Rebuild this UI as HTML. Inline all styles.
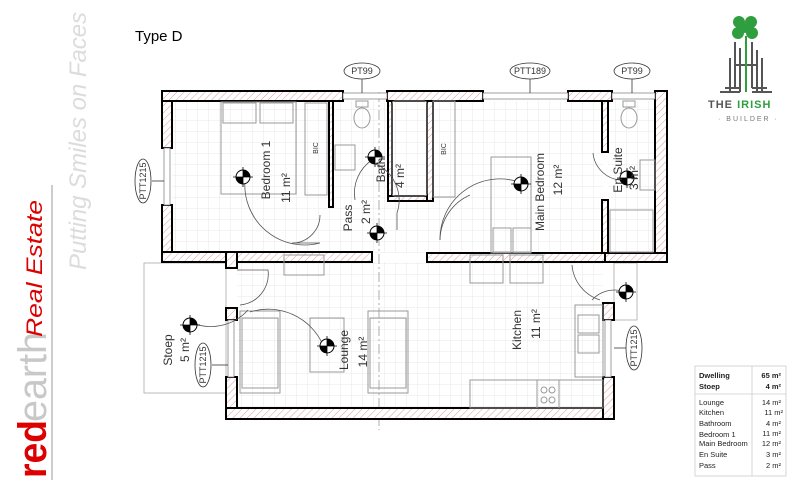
<!DOCTYPE html>
<html><head><meta charset="utf-8"><style>
html,body{margin:0;padding:0;background:#fff;}
body{width:799px;height:491px;overflow:hidden;}
svg text{font-family:"Liberation Sans",sans-serif;}
</style></head><body>
<svg width="799" height="491" viewBox="0 0 799 491" xmlns="http://www.w3.org/2000/svg">
<defs>
<pattern id="grid" width="11" height="11" patternUnits="userSpaceOnUse">
<path d="M11 0V11H0" fill="none" stroke="#e2e2e2" stroke-width="0.8"/>
</pattern>
<pattern id="hatch" width="5" height="5" patternUnits="userSpaceOnUse" patternTransform="rotate(45)">
<rect width="5" height="5" fill="#fff"/>
<line x1="0" y1="0" x2="0" y2="5" stroke="#d99" stroke-width="1"/>
</pattern>
<g id="light">
<circle r="7" fill="#fff" stroke="#000" stroke-width="1"/>
<path d="M0 0L0 -7A7 7 0 0 1 7 0Z" fill="#000"/>
<path d="M0 0L0 7A7 7 0 0 1 -7 0Z" fill="#000"/>
<line x1="-10" y1="0" x2="10" y2="0" stroke="#000" stroke-width="0.8"/>
<line x1="0" y1="-10" x2="0" y2="10" stroke="#000" stroke-width="0.8"/>
</g>
</defs>

<!-- left branding -->
<line x1="52" y1="185" x2="52" y2="480" stroke="#999" stroke-width="1"/>
<text transform="translate(46,478) rotate(-90)" font-size="40" fill="#d00" font-weight="bold" textLength="58" lengthAdjust="spacingAndGlyphs">red</text>
<text transform="translate(46,422) rotate(-90)" font-size="40" fill="#c8c8c8" textLength="90" lengthAdjust="spacingAndGlyphs">earth</text>
<text transform="translate(42,337) rotate(-90)" font-size="22" fill="#d00" font-style="italic" font-family="Liberation Serif" textLength="137" lengthAdjust="spacingAndGlyphs">Real Estate</text>
<text transform="translate(86,270) rotate(-90)" font-size="24" fill="#dcdcdc" font-style="italic" font-family="Liberation Serif" textLength="258" lengthAdjust="spacingAndGlyphs">Putting Smiles on Faces</text>

<text x="135" y="41" font-size="15" fill="#000">Type D</text>

<!-- Irish Builder logo -->
<g fill="#2e9e3e">
<circle cx="739" cy="22" r="6"/><circle cx="751" cy="22" r="6"/>
<circle cx="738" cy="33" r="6"/><circle cx="752" cy="33" r="6"/>
<circle cx="745" cy="28" r="5"/>
</g>
<g stroke="#555" stroke-width="2">
<line x1="735" y1="42" x2="735" y2="88"/><line x1="740" y1="48" x2="740" y2="92"/>
<line x1="752" y1="42" x2="752" y2="88"/><line x1="757" y1="50" x2="757" y2="92"/>
<line x1="730" y1="58" x2="730" y2="92"/><line x1="762" y1="58" x2="762" y2="92"/>
<line x1="725" y1="88" x2="740" y2="88"/><line x1="752" y1="88" x2="767" y2="88"/>
<line x1="720" y1="92" x2="740" y2="92"/><line x1="752" y1="92" x2="772" y2="92"/>
<line x1="736" y1="65" x2="756" y2="65"/>
</g>
<line x1="746" y1="36" x2="746" y2="92" stroke="#2e9e3e" stroke-width="2"/>
<text x="708" y="108" font-size="11" font-weight="bold" fill="#555" letter-spacing="1">THE <tspan fill="#2e9e3e">IRISH</tspan></text>
<text x="718" y="121" font-size="7" fill="#777" letter-spacing="2">· BUILDER ·</text>

<!-- floor grids -->
<rect x="172" y="101" width="431" height="152" fill="url(#grid)"/>
<rect x="237" y="262" width="366" height="146" fill="url(#grid)"/>
<rect x="608" y="101" width="47" height="152" fill="url(#grid)"/>

<!-- stoep and right yard -->
<rect x="144" y="263" width="82" height="130" fill="#fff" stroke="#aaa" stroke-width="0.8"/>
<rect x="614" y="263" width="23" height="57" fill="#fff" stroke="#aaa" stroke-width="0.8"/>

<!-- center dashed axis -->
<line x1="379" y1="92" x2="379" y2="430" stroke="#999" stroke-width="0.8" stroke-dasharray="10,3,2,3"/>

<!-- walls -->
<g fill="url(#hatch)" stroke="#000" stroke-width="2">
<rect x="162" y="91" width="10" height="57"/>
<rect x="162" y="205" width="10" height="57"/>
<rect x="162" y="91" width="181" height="10"/>
<rect x="387" y="91" width="96" height="10"/>
<rect x="568" y="91" width="44" height="10"/>
<rect x="655" y="91" width="12" height="171"/>
<rect x="162" y="252" width="64" height="10"/>
<rect x="226" y="252" width="11" height="16"/>
<rect x="237" y="252" width="135" height="10"/>
<rect x="427" y="253" width="178" height="9"/>
<rect x="605" y="253" width="62" height="9"/>
<rect x="329" y="101" width="4" height="106"/>
<rect x="388" y="101" width="4" height="99"/>
<rect x="388" y="196" width="45" height="5"/>
<rect x="427" y="101" width="6" height="100"/>
<rect x="602" y="101" width="6" height="51"/>
<rect x="602" y="200" width="6" height="53"/>
<rect x="226" y="308" width="11" height="12"/>
<rect x="226" y="377" width="11" height="42"/>
<rect x="226" y="408" width="388" height="11"/>
<rect x="603" y="303" width="11" height="17"/>
<rect x="603" y="377" width="11" height="42"/>
</g>
<!-- windows -->
<g fill="#fff" stroke="#888" stroke-width="0.8">
<rect x="343" y="93" width="44" height="6"/>
<rect x="483" y="93" width="85" height="6"/>
<rect x="612" y="93" width="43" height="6"/>
<rect x="164" y="148" width="6" height="57"/>
<rect x="228" y="320" width="6" height="57"/>
<rect x="605" y="320" width="6" height="57"/>
</g>

<!-- furniture -->
<g fill="none" stroke="#999" stroke-width="1">
<rect x="221" y="102" width="75" height="92"/>
<rect x="223" y="103" width="33" height="20"/><rect x="260" y="103" width="33" height="20"/>
<rect x="305" y="103" width="22" height="92"/>
<rect x="335" y="145" width="20" height="25"/>
<ellipse cx="362" cy="118" rx="8" ry="10"/><rect x="356" y="101" width="12" height="6"/>
<rect x="392" y="101" width="35" height="95" rx="3"/>
<rect x="433" y="101" width="22" height="96"/>
<rect x="491" y="157" width="40" height="96"/>
<rect x="493" y="228" width="18" height="24"/><rect x="513" y="228" width="18" height="24"/>
<ellipse cx="629" cy="118" rx="8" ry="10"/><rect x="623" y="101" width="12" height="6"/>
<rect x="640" y="160" width="15" height="30"/>
<rect x="610" y="210" width="43" height="42"/>
<rect x="284" y="255" width="40" height="20"/>
<rect x="470" y="255" width="33" height="28"/><rect x="510" y="255" width="33" height="28"/>
<rect x="240" y="311" width="40" height="82"/><rect x="242" y="318" width="36" height="70"/>
<rect x="310" y="318" width="34" height="54"/>
<rect x="368" y="311" width="40" height="82"/><rect x="370" y="318" width="36" height="70"/>
<rect x="575" y="305" width="28" height="72"/>
<rect x="578" y="315" width="21" height="18"/><rect x="578" y="335" width="21" height="18"/>
<rect x="470" y="380" width="133" height="28"/>
<rect x="537" y="380" width="22" height="28"/>
<circle cx="544" cy="390" r="3"/><circle cx="552" cy="390" r="3"/><circle cx="544" cy="400" r="3"/><circle cx="552" cy="400" r="3"/>
</g>
<text transform="translate(318,148) rotate(-90)" font-size="7" text-anchor="middle" fill="#333">BIC</text>
<text transform="translate(446,149) rotate(-90)" font-size="7" text-anchor="middle" fill="#333">BIC</text>

<!-- door swings -->
<g fill="none" stroke="#555" stroke-width="0.8">
<path d="M320 243 A 60 60 0 0 1 245 180"/>
<path d="M320 243 L292 243 A28 28 0 0 0 320 215"/>
<path d="M376 164 A40 40 0 0 1 397 213 L397 230"/>
<path d="M372 160 A40 40 0 0 0 355 200"/>
<path d="M440 240 A60 60 0 0 1 519 182"/>
<path d="M440 240 A50 50 0 0 1 470 195"/>
<path d="M593 153 A30 30 0 0 0 620 180"/>
<path d="M237 270 L268 270 A31 31 0 0 1 240 305"/>
<path d="M248 310 A50 50 0 0 1 190 322"/>
<path d="M250 312 A60 60 0 0 1 323 345"/>
<path d="M572 265 L572 265 A40 40 0 0 0 600 300"/>
<path d="M592 300 A30 30 0 0 1 625 292"/>
</g>

<!-- lights -->
<use href="#light" x="243" y="177"/>
<use href="#light" x="375" y="157"/>
<use href="#light" x="377" y="233"/>
<use href="#light" x="521" y="184"/>
<use href="#light" x="627" y="178"/>
<use href="#light" x="190" y="325"/>
<use href="#light" x="327" y="346"/>
<use href="#light" x="626" y="292"/>

<!-- room labels -->
<g font-size="12" fill="#333" text-anchor="middle">
<text transform="translate(270,170) rotate(-90)">Bedroom 1</text>
<text transform="translate(290,188) rotate(-90)">11 m²</text>
<text transform="translate(352,218) rotate(-90)">Pass</text>
<text transform="translate(370,212) rotate(-90)">2 m²</text>
<text transform="translate(385,170) rotate(-90)">Bath</text>
<text transform="translate(404,176) rotate(-90)">4 m²</text>
<text transform="translate(544,192) rotate(-90)">Main Bedroom</text>
<text transform="translate(562,180) rotate(-90)">12 m²</text>
<text transform="translate(622,170) rotate(-90)">En Suite</text>
<text transform="translate(638,178) rotate(-90)">3 m²</text>
<text transform="translate(348,350) rotate(-90)">Lounge</text>
<text transform="translate(367,352) rotate(-90)">14 m²</text>
<text transform="translate(521,330) rotate(-90)">Kitchen</text>
<text transform="translate(540,324) rotate(-90)">11 m²</text>
<text transform="translate(172,350) rotate(-90)">Stoep</text>
<text transform="translate(189,350) rotate(-90)">5 m²</text>
</g>

<!-- tags -->
<g fill="#fff" stroke="#333" stroke-width="0.8">
<line x1="362" y1="79" x2="362" y2="93"/><ellipse cx="362" cy="71" rx="18" ry="8"/>
<line x1="530" y1="79" x2="530" y2="93"/><ellipse cx="530" cy="71" rx="20" ry="8"/>
<line x1="632" y1="79" x2="632" y2="93"/><ellipse cx="632" cy="71" rx="18" ry="8"/>
<line x1="152" y1="181" x2="164" y2="181"/><ellipse cx="143" cy="181" rx="8" ry="22"/>
<line x1="212" y1="365" x2="228" y2="365"/><ellipse cx="203" cy="365" rx="8" ry="22"/>
<line x1="614" y1="348" x2="626" y2="348"/><ellipse cx="634" cy="348" rx="8" ry="22"/>
</g>
<g font-size="9" fill="#333" text-anchor="middle">
<text x="362" y="74">PT99</text>
<text x="530" y="74">PTT189</text>
<text x="632" y="74">PT99</text>
<text transform="translate(146,181) rotate(-90)">PTT1215</text>
<text transform="translate(206,365) rotate(-90)">PTT1215</text>
<text transform="translate(637,348) rotate(-90)">PTT1215</text>
</g>

<!-- table -->
<rect x="695" y="366" width="91" height="110" fill="#fff" stroke="#ccc" stroke-width="0.8"/>
<line x1="695" y1="394" x2="786" y2="394" stroke="#ccc" stroke-width="0.8"/>
<line x1="752" y1="366" x2="752" y2="476" stroke="#ccc" stroke-width="0.8"/>
<g font-size="7.5" fill="#222">
<text x="699" y="378" font-weight="bold">Dwelling</text><text x="781" y="378" font-weight="bold" text-anchor="end">65 m²</text>
<text x="699" y="389" font-weight="bold">Stoep</text><text x="781" y="389" font-weight="bold" text-anchor="end">4 m²</text>
<text x="699" y="405">Lounge</text><text x="781" y="405" text-anchor="end">14 m²</text>
<text x="699" y="415">Kitchen</text><text x="783" y="415" text-anchor="end">11 m²</text>
<text x="699" y="426">Bathroom</text><text x="781" y="426" text-anchor="end">4 m²</text>
<text x="699" y="437">Bedroom 1</text><text x="781" y="436" text-anchor="end">11 m²</text>
<text x="699" y="446">Main Bedroom</text><text x="781" y="446" text-anchor="end">12 m²</text>
<text x="699" y="457">En Suite</text><text x="781" y="457" text-anchor="end">3 m²</text>
<text x="699" y="468">Pass</text><text x="781" y="468" text-anchor="end">2 m²</text>
</g>
</svg>
</body></html>
